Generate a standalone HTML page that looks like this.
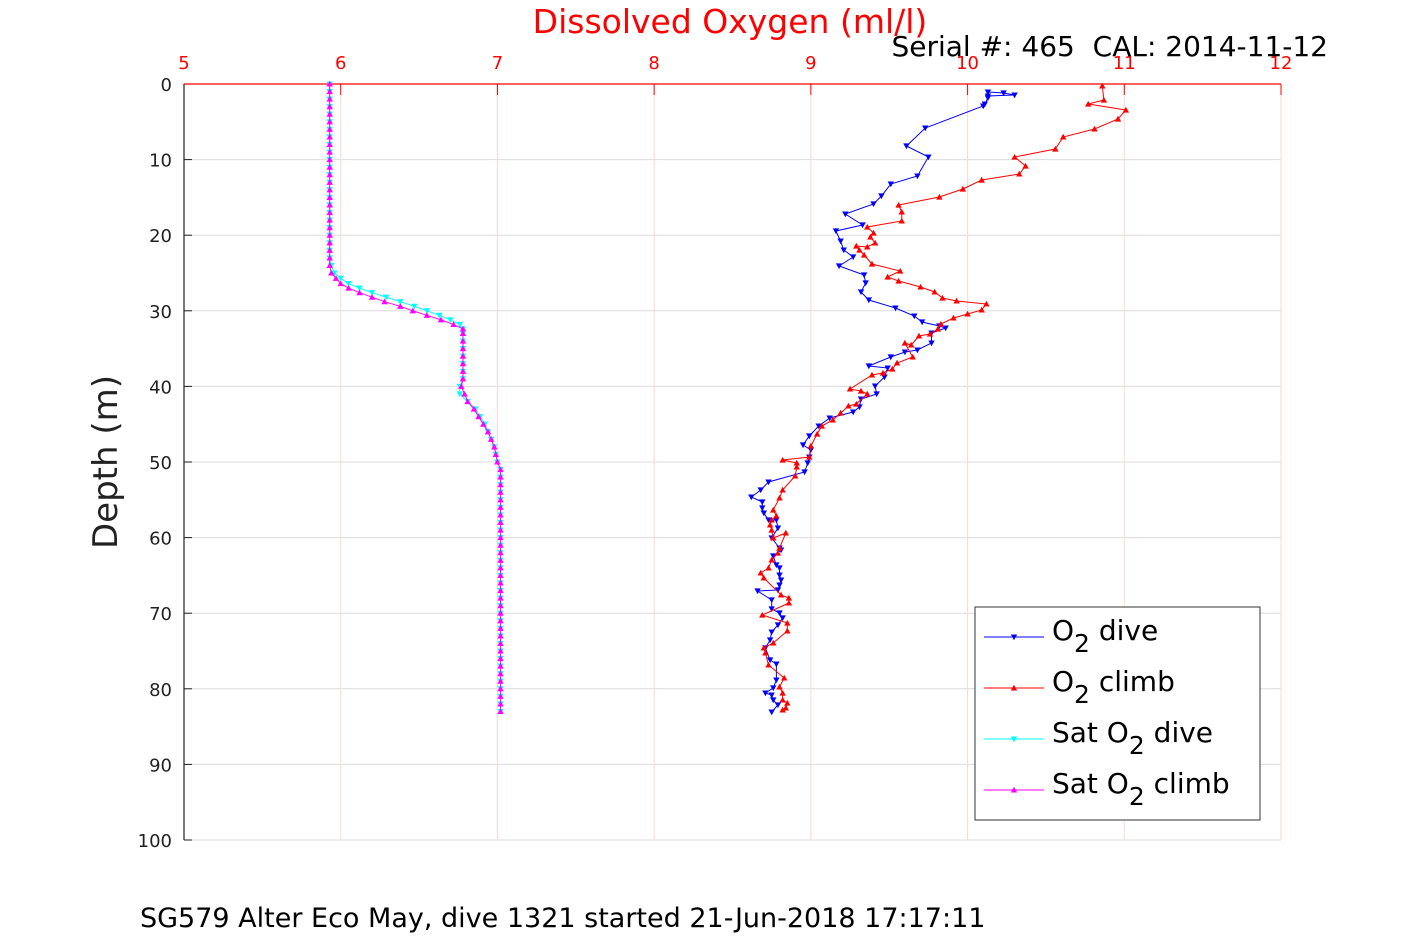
<!DOCTYPE html>
<html><head><meta charset="utf-8"><style>
body{margin:0;background:#fff;}
svg{display:block;font-family:"DejaVu Sans","Liberation Sans",sans-serif;}
</style></head><body>
<svg id="chart" width="1417" height="945" viewBox="0 0 1417 945" xmlns="http://www.w3.org/2000/svg">
<rect width="1417" height="945" fill="#fff"/>
<g id="grid"></g>
<g id="axes"></g>
<g id="series"></g>
<text x="730" y="33" font-size="33" fill="#ff0000" text-anchor="middle">Dissolved Oxygen (ml/l)</text>
<text x="1328" y="56" font-size="28" fill="#000" text-anchor="end" xml:space="preserve">Serial #: 465  CAL: 2014-11-12</text>
<text transform="translate(117,462) rotate(-90)" font-size="34" fill="#222" text-anchor="middle">Depth (m)</text>
<text x="140" y="927" font-size="27" fill="#000">SG579 Alter Eco May, dive 1321 started 21-Jun-2018 17:17:11</text>
<g id="legend">
<rect x="975" y="607" width="285" height="213" fill="#fff" stroke="#333" stroke-width="1"/>
</g>
</svg>
<script>
const xTicks=[5,6,7,8,9,10,11,12];
const yTicks=[0,10,20,30,40,50,60,70,80,90,100];
const o2DiveVal=[10.13,10.23,10.30,10.13,10.13,10.11,10.10,9.73,9.61,9.75,9.68,9.51,9.45,9.40,9.22,9.33,9.16,9.19,9.21,9.27,9.18,9.34,9.35,9.32,9.37,9.54,9.66,9.71,9.82,9.86,9.77,9.77,9.68,9.60,9.51,9.37,9.49,9.47,9.41,9.42,9.32,9.31,9.27,9.12,9.05,8.99,8.95,9.00,8.99,8.98,8.96,8.73,8.68,8.62,8.69,8.69,8.70,8.73,8.78,8.79,8.75,8.80,8.81,8.76,8.78,8.80,8.80,8.81,8.80,8.79,8.66,8.75,8.75,8.80,8.82,8.79,8.75,8.74,8.71,8.74,8.78,8.78,8.76,8.71,8.75,8.76,8.79,8.75];
const o2DiveDepth=[1.06,1.19,1.46,1.59,1.85,2.65,2.91,5.82,8.2,9.66,12.17,13.23,14.81,15.87,17.2,18.65,19.44,20.77,21.96,22.88,24.07,25.26,26.32,27.51,28.57,29.63,30.69,31.48,32.01,32.28,32.94,34.26,35.19,35.45,36.11,37.3,37.57,38.76,39.95,41.0,41.67,42.72,43.39,44.18,45.24,46.56,47.75,48.41,49.34,50.13,51.32,52.65,53.7,54.63,55.29,56.08,56.75,57.67,57.67,58.73,60.05,61.38,61.64,62.43,63.62,64.02,64.95,65.61,66.27,66.93,67.06,68.25,69.44,69.97,70.63,71.56,72.49,73.54,74.6,76.19,76.72,78.84,79.89,80.56,80.82,81.48,82.14,83.07];
const o2ClimbVal=[10.86,10.87,10.77,11.01,10.96,10.81,10.61,10.56,10.30,10.37,10.33,10.09,9.97,9.82,9.56,9.58,9.58,9.36,9.40,9.38,9.41,9.36,9.29,9.31,9.34,9.39,9.57,9.49,9.56,9.70,9.79,9.84,9.93,10.12,10.09,10.00,9.91,9.83,9.81,9.76,9.69,9.64,9.60,9.65,9.55,9.52,9.46,9.39,9.25,9.32,9.36,9.29,9.24,9.19,9.14,9.07,9.04,9.00,8.99,8.82,8.91,8.91,8.90,8.82,8.80,8.76,8.78,8.75,8.74,8.75,8.76,8.84,8.80,8.79,8.75,8.73,8.68,8.70,8.81,8.86,8.86,8.69,8.85,8.85,8.76,8.70,8.71,8.73,8.83,8.80,8.82,8.82,8.85,8.84,8.82];
const o2ClimbDepth=[0.26,2.12,2.65,3.44,4.63,5.95,7.01,8.6,9.66,10.85,11.9,12.7,13.89,14.95,16.01,16.93,18.12,18.92,19.71,20.24,21.03,21.56,21.43,21.96,22.62,23.81,24.74,25.53,26.06,26.85,27.51,28.31,28.7,29.1,29.89,30.42,30.95,31.75,32.41,33.07,33.33,34.52,34.26,36.11,36.9,37.7,38.23,38.49,40.34,40.61,41.0,42.33,42.59,43.52,44.44,45.24,46.3,47.88,49.34,49.74,50.13,50.66,51.85,53.7,54.76,56.35,57.14,57.67,58.33,59.0,60.05,59.39,61.38,62.04,62.96,64.02,64.68,65.34,67.59,67.99,68.65,70.24,71.3,72.35,73.94,74.6,75.26,76.85,78.57,79.76,80.56,81.48,81.88,82.54,82.8];
const satDepth=[0,1,2,3,4,5,6,7,8,9,10,11,12,13,14,15,16,17,18,19,20,21,22,23,24,25,25.7,26.4,27,27.6,28.2,28.8,29.4,30,30.6,31.2,31.8,32.4,33,34,35,36,37,38,39,40,41,42,43,44,45,46,47,48,49,50,51,52,53,54,55,56,57,58,59,60,61,62,63,64,65,66,67,68,69,70,71,72,73,74,75,76,77,78,79,80,81,82,83];
const satClimbVal=[5.93,5.93,5.93,5.93,5.93,5.93,5.93,5.93,5.93,5.93,5.93,5.93,5.93,5.93,5.93,5.93,5.93,5.93,5.93,5.93,5.93,5.93,5.93,5.93,5.93,5.94,5.97,6.0,6.05,6.12,6.2,6.28,6.38,6.46,6.55,6.64,6.72,6.78,6.78,6.78,6.78,6.78,6.78,6.78,6.78,6.77,6.79,6.81,6.85,6.88,6.91,6.94,6.96,6.98,6.99,7.00,7.02,7.02,7.02,7.02,7.02,7.02,7.02,7.02,7.02,7.02,7.02,7.02,7.02,7.02,7.02,7.02,7.02,7.02,7.02,7.02,7.02,7.02,7.02,7.02,7.02,7.02,7.02,7.02,7.02,7.02,7.02,7.02,7.02];
const satDiveVal=[5.93,5.93,5.93,5.93,5.93,5.93,5.93,5.93,5.93,5.93,5.93,5.93,5.93,5.93,5.93,5.93,5.93,5.93,5.93,5.93,5.93,5.93,5.93,5.93,5.94,5.96,6.0,6.05,6.12,6.2,6.29,6.38,6.47,6.55,6.63,6.7,6.76,6.78,6.78,6.78,6.78,6.78,6.78,6.78,6.78,6.76,6.76,6.81,6.86,6.89,6.92,6.94,6.96,6.98,6.99,7.00,7.02,7.02,7.02,7.02,7.02,7.02,7.02,7.02,7.02,7.02,7.02,7.02,7.02,7.02,7.02,7.02,7.02,7.02,7.02,7.02,7.02,7.02,7.02,7.02,7.02,7.02,7.02,7.02,7.02,7.02,7.02,7.02,7.02];

const NS="http://www.w3.org/2000/svg";
const X0=184,X1=1281,Y0=84,Y1=840;
function xs(v){return X0+(v-5)/7*(X1-X0);}
function ys(d){return Y0+d/100*(Y1-Y0);}
function mk(tag,attrs,parent){const e=document.createElementNS(NS,tag);for(const k in attrs)e.setAttribute(k,attrs[k]);parent.appendChild(e);return e;}
const grid=document.getElementById('grid'),axes=document.getElementById('axes'),ser=document.getElementById('series');

yTicks.forEach(t=>{
  const l=mk('line',{x1:X0,x2:X1,y1:ys(t),y2:ys(t),stroke:'#dcdcdc','stroke-width':1},grid);
  
  
  const tk=mk('line',{x1:X0,x2:X0+8,y1:ys(t),y2:ys(t),stroke:'#222'},axes);
  
  
  const tx=mk('text',{x:172,y:ys(t)+7,'font-size':18,fill:'#222','text-anchor':'end'},axes);
  tx.textContent=t;
  
  
});
xTicks.forEach(t=>{
  const l=mk('line',{x1:xs(t),x2:xs(t),y1:Y0,y2:Y1,stroke:'#ffd6d6','stroke-width':1},grid);
  
  
  const tk=mk('line',{x1:xs(t),x2:xs(t),y1:Y0,y2:Y0+11,stroke:'#ff0000'},axes);
  
  
  const tx=mk('text',{x:xs(t),y:69,'font-size':18,fill:'#ff0000','text-anchor':'middle'},axes);
  tx.textContent=t;
  
  
});
const topAx=mk('line',{x1:X0,x2:X1,y1:Y0,y2:Y0,stroke:'#ff0000','stroke-width':1.2},axes);


const leftAx=mk('line',{x1:X0,x2:X0,y1:Y0,y2:Y1,stroke:'#222','stroke-width':1.2},axes);



function tri(x,y,up,color,parent){
  const s=3.2;
  const pts=up?`${x},${y-s} ${x-s},${y+s*0.8} ${x+s},${y+s*0.8}`:`${x},${y+s} ${x-s},${y-s*0.8} ${x+s},${y-s*0.8}`;
  return mk('polygon',{points:pts,fill:color},parent);
}
function drawSeries(vals,depths,color,up,name){
  const g=mk('g',{},ser);
  
  
  const pts=vals.map((v,i)=>xs(v).toFixed(1)+','+ys(depths[i]).toFixed(1)).join(' ');
  const pl=mk('polyline',{points:pts,fill:'none',stroke:color,'stroke-width':1},g);
  
  
  vals.forEach((v,i)=>{
    const m=tri(xs(v),ys(depths[i]),up,color,g);
    
    
  });
}
drawSeries(satDiveVal,satDepth,'#00ffff',false,'sat-o2-dive');
drawSeries(satClimbVal,satDepth,'#ff00ff',true,'sat-o2-climb');
drawSeries(o2DiveVal,o2DiveDepth,'#0000ff',false,'o2-dive');
drawSeries(o2ClimbVal,o2ClimbDepth,'#ff0000',true,'o2-climb');

const leg=document.getElementById('legend');
const entries=[['O','2',' dive',false,'#0000ff','legend-o2-dive'],['O','2',' climb',true,'#ff0000','legend-o2-climb'],['Sat O','2',' dive',false,'#00ffff','legend-sat-o2-dive'],['Sat O','2',' climb',true,'#ff00ff','legend-sat-o2-climb']];
entries.forEach((e,i)=>{
  const y=637+i*51;
  const g=mk('g',{},leg);
  
  
  mk('line',{x1:984,x2:1044,y1:y,y2:y,stroke:e[4],'stroke-width':1},g);
  tri(1014,y,e[3],e[4],g);
  const t=mk('text',{x:1052,y:y+3,'font-size':28,fill:'#000'},g);
  t.appendChild(document.createTextNode(e[0]));
  const sub=mk('tspan',{dy:12,'font-size':25},t);sub.textContent=e[1];
  const rest=mk('tspan',{dy:-12},t);rest.textContent=e[2];
});
</script>
</body></html>
